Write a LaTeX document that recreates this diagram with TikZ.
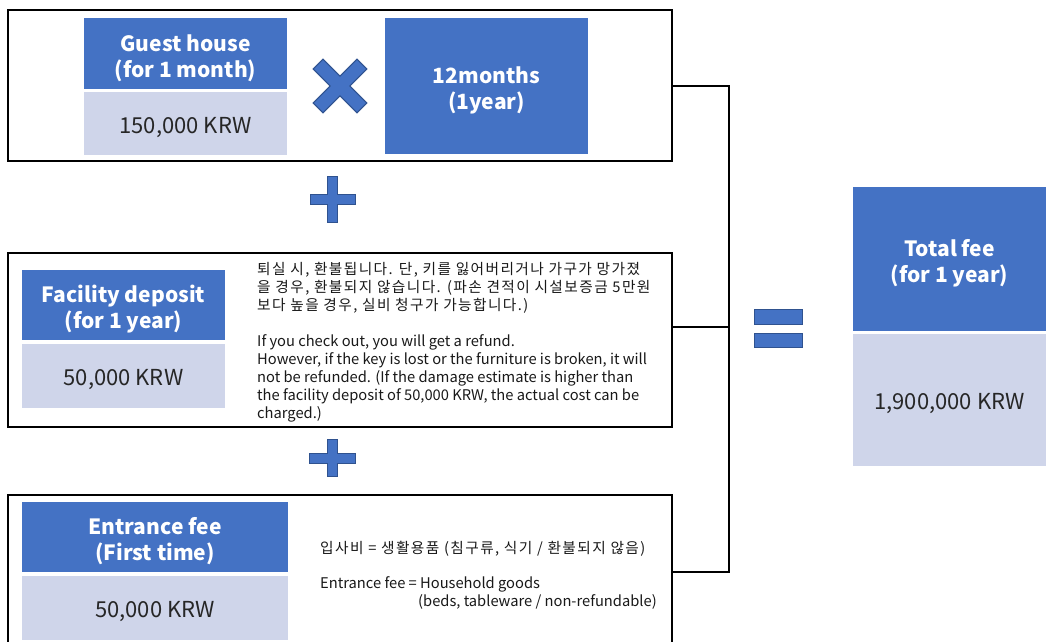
\documentclass[tikz,border=0pt]{standalone}
\usepackage{fontspec}
\setmainfont{Noto Sans CJK KR}
\newfontfamily\krfont[LetterSpace=9.5]{Noto Sans CJK KR}
\definecolor{hdrblue}{HTML}{4472C4}
\definecolor{valgray}{HTML}{CFD5EA}
\definecolor{edgeblue}{HTML}{2F528F}
\newcommand\hdtopstrut{\rule{0pt}{26pt}}
\begin{document}
\begin{tikzpicture}[x=1pt,y=-1pt,
  hdrbox/.style={fill=hdrblue, text=white, font=\fontsize{21}{26}\selectfont\bfseries, align=center, inner sep=0pt, outer sep=0pt, anchor=north west},
  valbox/.style={fill=valgray, text=black!85, font=\fontsize{22}{26}\selectfont, align=center, inner sep=0pt, outer sep=0pt, anchor=north west, execute at begin node={\rule{0pt}{24pt}}},
  framebox/.style={draw=black, line width=2pt, inner sep=0pt, outer sep=0pt, anchor=north west},
  notetext/.style={font=\fontsize{14.7}{18}\selectfont, align=left, anchor=north west, inner sep=0pt, text=black!90},
  krtext/.style={font=\fontsize{14.7}{18}\selectfont\krfont, align=left, anchor=north west, inner sep=0pt, text=black!90},
  symb/.style={fill=hdrblue, draw=edgeblue, line width=1pt},
  conn/.style={draw=black, line width=2pt}]
\useasboundingbox (0,0) rectangle (1046,641);
\fill[white] (0,0) rectangle (1046,641);

% frames
\node[framebox, minimum width=664, minimum height=151] (topbox) at (8,10) {};
\node[framebox, minimum width=664, minimum height=174] (midbox) at (8,253) {};
\node[framebox, minimum width=664, minimum height=154] (botbox) at (8,495) {};

% top row
\node[hdrbox, minimum width=203, minimum height=71] (ghh) at (84,18) {\hdtopstrut Guest house\\(for 1 month)};
\node[valbox, minimum width=203, minimum height=63] (ghv) at (84,92) {150,000 KRW};
\node[hdrbox, minimum width=203, minimum height=136] (months) at (385,18) {\hdtopstrut 12months\\(1year)};
\begin{scope}[shift={(340,86)}, rotate=45]
  \filldraw[symb] (-7,-31) -- (7,-31) -- (7,-7) -- (31,-7) -- (31,7) -- (7,7) -- (7,31) -- (-7,31) -- (-7,7) -- (-31,7) -- (-31,-7) -- (-7,-7) -- cycle;
\end{scope}

% plus 1
\begin{scope}[shift={(332.5,199)}]
  \filldraw[symb] (-5,-23) -- (5,-23) -- (5,-5) -- (22.5,-5) -- (22.5,5) -- (5,5) -- (5,23) -- (-5,23) -- (-5,5) -- (-22.5,5) -- (-22.5,-5) -- (-5,-5) -- cycle;
\end{scope}

% middle row
\node[hdrbox, minimum width=203, minimum height=70] (fdh) at (22,270) {\hdtopstrut Facility deposit\\(for 1 year)};
\node[valbox, minimum width=203, minimum height=64] (fdv) at (22,344) {50,000 KRW};
\node[krtext] (fdkr) at (257,262) {퇴실 시, 환불됩니다. 단, 키를 잃어버리거나 가구가 망가졌\\을 경우, 환불되지 않습니다. (파손 견적이 시설보증금 5만원\\보다 높을 경우, 실비 청구가 가능합니다.)};
\node[notetext] (fden) at (257,334) {If you check out, you will get a refund.\\However, if the key is lost or the furniture is broken, it will\\not be refunded. (If the damage estimate is higher than\\the facility deposit of 50,000 KRW, the actual cost can be\\charged.)};

% plus 2
\begin{scope}[shift={(332,458)}]
  \filldraw[symb] (-5,-18.5) -- (5,-18.5) -- (5,-5) -- (23,-5) -- (23,5) -- (5,5) -- (5,18.5) -- (-5,18.5) -- (-5,5) -- (-23,5) -- (-23,-5) -- (-5,-5) -- cycle;
\end{scope}

% bottom row
\node[hdrbox, minimum width=266, minimum height=70] (efh) at (22,502) {\hdtopstrut Entrance fee\\(First time)};
\node[valbox, minimum width=266, minimum height=64] (efv) at (22,576) {50,000 KRW};
\node[krtext] (efkr) at (320,541) {입사비 = 생활용품 (침구류, 식기 / 환불되지 않음)};
\node[notetext] (efen) at (320,576) {Entrance fee = Household goods\\\hspace*{98pt}(beds, tableware / non-refundable)};

% bracket connectors
\coordinate (bus) at (729,0);
\coordinate (midjoin) at (0,327);
\draw[conn] (topbox.east) -| (bus |- botbox.east) -- (botbox.east);
\draw[conn] (midbox.east |- midjoin) -- (bus |- midjoin);

% equals
\filldraw[symb] (754,309) rectangle (802,324);
\filldraw[symb] (754,333) rectangle (802,347);

% total
\node[hdrbox, minimum width=193, minimum height=144] (toth) at (853,187) {\hdtopstrut Total fee\\(for 1 year)};
\node[valbox, minimum width=193, minimum height=132] (totv) at (853,334) {1,900,000 KRW};
\end{tikzpicture}
\end{document}
